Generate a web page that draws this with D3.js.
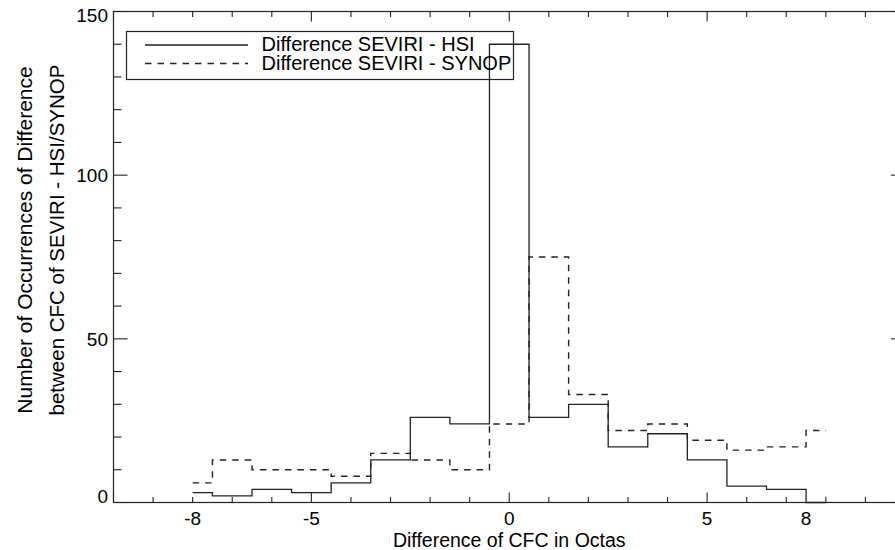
<!DOCTYPE html>
<html>
<head>
<meta charset="utf-8">
<script src="https://cdn.jsdelivr.net/npm/d3@7"></script>
<style>
  body { margin: 0; background: #fff; }
  text { font-family: "Liberation Sans", Arial, sans-serif; fill: #000; }
</style>
</head>
<body>
<svg id="chart"></svg>
<script>
const width = 895, height = 550;

// bin centres (octas) and counts
const octas = d3.range(-8, 9);
const hsiCounts   = [3, 2, 4, 3, 6, 13, 26, 24, 140, 26, 30, 17, 21, 13, 5, 4, 0];
const synopCounts = [6, 13, 10, 10, 8, 15, 13, 10, 24, 75, 33, 22, 24, 19, 16, 17, 22];

const xMajor = [-10, -5, 0, 5, 10];
const xMinor = d3.range(-10, 11);
const yMajor = [0, 50, 100, 150];
const yMinor = d3.range(0, 151, 10);
const xLabelValues = [-8, -5, 0, 5, 7.5];
const xLabelTexts  = ["-8", "-5", "0", "5", "8"];

const legendNames = ["Difference SEVIRI - HSI", "Difference SEVIRI - SYNOP"];

const plot = { left: 113.5, right: 905, top: 11.5, bottom: 502.5 };
const ink = "#222";

const x = d3.scaleLinear().domain([-10, 10]).range([plot.left, plot.right]);
const y = d3.scaleLinear().domain([0, 150]).range([plot.bottom, plot.top]);

const svg = d3.select("#chart")
    .attr("width", width)
    .attr("height", height);

// frame
svg.append("rect")
    .attr("x", plot.left).attr("y", plot.top)
    .attr("width", plot.right - plot.left).attr("height", plot.bottom - plot.top)
    .attr("fill", "none").attr("stroke", ink).attr("stroke-width", 1.2);

const ticks = svg.append("g").attr("stroke", ink).attr("stroke-width", 1.1);

// x ticks, bottom and top, pointing inwards
xMinor.forEach(v => {
    const len = xMajor.includes(v) ? 10 : 5.5;
    ticks.append("line").attr("x1", x(v)).attr("x2", x(v))
        .attr("y1", plot.bottom).attr("y2", plot.bottom - len);
    ticks.append("line").attr("x1", x(v)).attr("x2", x(v))
        .attr("y1", plot.top).attr("y2", plot.top + len);
});

// y ticks, left and right
yMinor.forEach(v => {
    const len = yMajor.includes(v) ? 14 : 8;
    ticks.append("line").attr("y1", y(v)).attr("y2", y(v))
        .attr("x1", plot.left).attr("x2", plot.left + len);
    ticks.append("line").attr("y1", y(v)).attr("y2", y(v))
        .attr("x1", plot.right).attr("x2", plot.right - len);
});

// tick labels
svg.append("g").selectAll("text")
    .data(xLabelValues)
    .join("text")
    .attr("x", d => x(d))
    .attr("y", 525)
    .attr("text-anchor", "middle")
    .style("font-size", "19px")
    .text((d, i) => xLabelTexts[i]);

svg.append("g").selectAll("text")
    .data(yMajor)
    .join("text")
    .attr("x", 108)
    .attr("y", d => Math.min(Math.max(y(d), plot.top + 3.5), plot.bottom - 6))
    .attr("dy", "0.36em")
    .attr("text-anchor", "end")
    .style("font-size", "19px")
    .text(d => d);

// axis titles
svg.append("text")
    .attr("x", x(0)).attr("y", 546.5)
    .attr("text-anchor", "middle")
    .style("font-size", "19.5px")
    .text("Difference of CFC in Octas");

const yTitle = svg.append("g").attr("transform", "translate(0,240) rotate(-90)");
yTitle.append("text")
    .attr("x", 0).attr("y", 32)
    .attr("text-anchor", "middle")
    .style("font-size", "21px")
    .text("Number of Occurrences of Difference");
yTitle.append("text")
    .attr("x", 0).attr("y", 64)
    .attr("text-anchor", "middle")
    .style("font-size", "20.5px")
    .text("between CFC of SEVIRI - HSI/SYNOP");

// histograms
const line = d3.line()
    .x(d => x(d[0]))
    .y(d => y(d[1]))
    .curve(d3.curveStep);

svg.append("path")
    .datum(d3.zip(octas, hsiCounts))
    .attr("fill", "none")
    .attr("stroke", ink)
    .attr("stroke-width", 1.3)
    .attr("d", line);

svg.append("path")
    .datum(d3.zip(octas, synopCounts))
    .attr("fill", "none")
    .attr("stroke", ink)
    .attr("stroke-width", 1.4)
    .attr("stroke-dasharray", "6.5,6")
    .attr("d", line);

// legend
const legend = svg.append("g");
legend.append("rect")
    .attr("x", 126.5).attr("y", 31.5)
    .attr("width", 387).attr("height", 48)
    .attr("fill", "none").attr("stroke", ink).attr("stroke-width", 1.2);

legend.selectAll("line.key")
    .data(legendNames)
    .join("line")
    .attr("class", "key")
    .attr("x1", 145).attr("x2", 248)
    .attr("y1", (d, i) => 45 + i * 18.5)
    .attr("y2", (d, i) => 45 + i * 18.5)
    .attr("stroke", ink)
    .attr("stroke-width", 1.4)
    .attr("stroke-dasharray", (d, i) => i ? "6.5,6" : null);

legend.selectAll("text")
    .data(legendNames)
    .join("text")
    .attr("x", 261.5)
    .attr("y", (d, i) => 50.5 + i * 19.5)
    .style("font-size", "20px")
    .text(d => d);
</script>
</body>
</html>
